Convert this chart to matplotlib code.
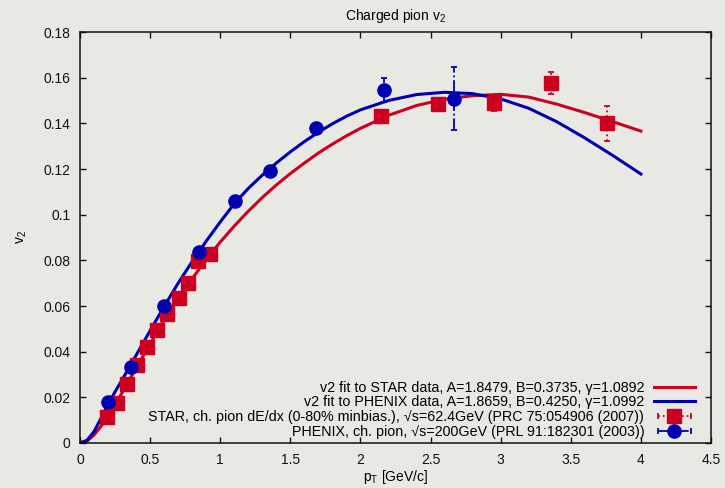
# Charged pion v2 vs pT: STAR and PHENIX data with their fits (gnuplot look).
import matplotlib
matplotlib.use("Agg")
import matplotlib.pyplot as plt
from matplotlib.lines import Line2D
from matplotlib.legend_handler import HandlerLine2D, HandlerTuple

# fit curves
fit_pt = [0.0, 0.05, 0.1, 0.15, 0.2, 0.25, 0.3, 0.35, 0.4, 0.5, 0.6, 0.7, 0.8,
          0.9, 1.0, 1.1, 1.2, 1.3, 1.4, 1.5, 1.6, 1.7, 1.8, 1.9, 2.0, 2.2,
          2.4, 2.6, 2.8, 3.0, 3.2, 3.4, 3.6, 3.8, 4.0]
star_fit = [0.0, 0.0008, 0.0035, 0.0073, 0.0118, 0.0167, 0.0220, 0.0274,
            0.0328, 0.0434, 0.0537, 0.0632, 0.0720, 0.0803, 0.0880, 0.0950,
            0.1015, 0.1075, 0.1130, 0.1180, 0.1226, 0.1270, 0.1309, 0.1345,
            0.1378, 0.1435, 0.1478, 0.1506, 0.1521, 0.1527, 0.1515, 0.1484,
            0.1447, 0.1407, 0.1366]
phenix_fit = [0.0, 0.0012, 0.0050, 0.0108, 0.0170, 0.0224, 0.0277, 0.0330,
              0.0384, 0.0492, 0.0598, 0.0700, 0.0795, 0.0884, 0.0968, 0.1048,
              0.1115, 0.1173, 0.1226, 0.1275, 0.1320, 0.1361, 0.1398, 0.1431,
              0.1459, 0.1500, 0.1526, 0.1536, 0.1530, 0.1507, 0.1466, 0.1407,
              0.1336, 0.1259, 0.1178]

# STAR data
star_pt = [0.195, 0.266, 0.333, 0.404, 0.48, 0.552, 0.621, 0.704, 0.773,
           0.844, 0.925, 2.149, 2.556, 2.955, 3.359, 3.761]
star_v2 = [0.0114, 0.0174, 0.0257, 0.0340, 0.0422, 0.0493, 0.0566, 0.0634,
           0.0699, 0.0797, 0.0826, 0.1432, 0.1483, 0.1488, 0.1576, 0.1400]
star_err = [0.0005, 0.0005, 0.0005, 0.0005, 0.0005, 0.0006, 0.0006, 0.0007,
            0.0008, 0.0009, 0.001, 0.002, 0.002, 0.0032, 0.0048, 0.0077]

# PHENIX data
phenix_pt = [0.202, 0.361, 0.602, 0.851, 1.103, 1.355, 1.683, 2.168, 2.665]
phenix_v2 = [0.0181, 0.0333, 0.0602, 0.0838, 0.1058, 0.1193, 0.1378, 0.1546, 0.1507]
phenix_err = [0.0004, 0.0005, 0.0007, 0.001, 0.0012, 0.0015, 0.002, 0.0053, 0.0138]

labels = [
    "v2 fit to STAR data, A=1.8479, B=0.3735, \u03b3=1.0892",
    "v2 fit to PHENIX data, A=1.8659, B=0.4250, \u03b3=1.0992",
    "STAR, ch. pion dE/dx (0-80% minbias.), \u221as=62.4GeV (PRC 75:054906 (2007))",
    "PHENIX, ch. pion, \u221as=200GeV (PRL 91:182301 (2003))",
]

RED = "#cc0020"
BLUE = "#0000b0"
BG = "#e9e9e4"

plt.rcParams["font.family"] = ["Liberation Sans", "DejaVu Sans"]
plt.rcParams["mathtext.fontset"] = "custom"
plt.rcParams["mathtext.rm"] = "Liberation Sans"
plt.rcParams["mathtext.it"] = "Liberation Sans"

fig = plt.figure(figsize=(7.25, 4.88), dpi=100, facecolor=BG)
ax = fig.add_axes([80 / 725, 1 - 443 / 488, 631 / 725, 411 / 488], facecolor=BG)

ax.plot(fit_pt, star_fit, color=RED, lw=2.2, zorder=2)
ax.plot(fit_pt, phenix_fit, color=BLUE, lw=2.2, zorder=2)

eb1 = ax.errorbar(star_pt, star_v2, yerr=star_err, fmt="s", color=RED, ms=9.5,
                  capsize=2.2, elinewidth=1.3, capthick=1.3, zorder=3)
eb1[2][0].set_linestyle(":")
eb2 = ax.errorbar(phenix_pt, phenix_v2, yerr=phenix_err, fmt="o", color=BLUE, ms=9.5,
                  capsize=2.2, elinewidth=1.3, capthick=1.3, zorder=4)
eb2[2][0].set_linestyle("-.")

ax.set_xlim(0, 4.5)
ax.set_ylim(0, 0.18)
ax.set_xticks([0, 0.5, 1, 1.5, 2, 2.5, 3, 3.5, 4, 4.5])
ax.set_xticklabels(["0", "0.5", "1", "1.5", "2", "2.5", "3", "3.5", "4", "4.5"])
ax.set_yticks([0, 0.02, 0.04, 0.06, 0.08, 0.1, 0.12, 0.14, 0.16, 0.18])
ax.set_yticklabels(["0", "0.02", "0.04", "0.06", "0.08", "0.1", "0.12", "0.14", "0.16", "0.18"])
ax.tick_params(direction="in", length=4.5, width=1.0, top=True, right=True,
               labelsize=10, colors="#111111", pad=7)
for s in ax.spines.values():
    s.set_linewidth(1.1)
    s.set_color("#111111")

ax.set_xlabel(r"p$_{\mathrm{T}}$ [GeV/c]", fontsize=10, labelpad=1)
ax.set_ylabel(r"v$_{2}$", fontsize=10, labelpad=10)
ax.set_title(r"Charged pion v$_{2}$", fontsize=10, pad=9,
             family=["Liberation Sans Narrow", "Liberation Sans"])

# gnuplot-style key: text right, sample on the right, horizontal error bars
h_star_fit = Line2D([], [], color=RED, lw=2.2)
h_phen_fit = Line2D([], [], color=BLUE, lw=2.2)
star_bar = Line2D([], [], color=RED, lw=1.3, ls=":", marker="|", ms=5, mew=1.3)
star_mk = Line2D([], [], color=RED, ls="none", marker="s", ms=9.5)
phen_bar = Line2D([], [], color=BLUE, lw=1.3, ls="-.", marker="|", ms=5, mew=1.3)
phen_mk = Line2D([], [], color=BLUE, ls="none", marker="o", ms=9.5)

hmap = {
    star_bar: HandlerLine2D(numpoints=2),
    phen_bar: HandlerLine2D(numpoints=2),
    star_mk: HandlerLine2D(numpoints=1),
    phen_mk: HandlerLine2D(numpoints=1),
    tuple: HandlerTuple(ndivide=1, pad=0),
}
ax.legend([h_star_fit, h_phen_fit, (star_bar, star_mk), (phen_bar, phen_mk)],
          labels, loc="lower right", bbox_to_anchor=(0.975, 0.010),
          frameon=False, markerfirst=False, fontsize=10.3, handlelength=2.9,
          handletextpad=0.66, labelspacing=0.05, borderpad=0, borderaxespad=0,
          handler_map=hmap)

fig.savefig("out.png", dpi=100, facecolor=BG)
